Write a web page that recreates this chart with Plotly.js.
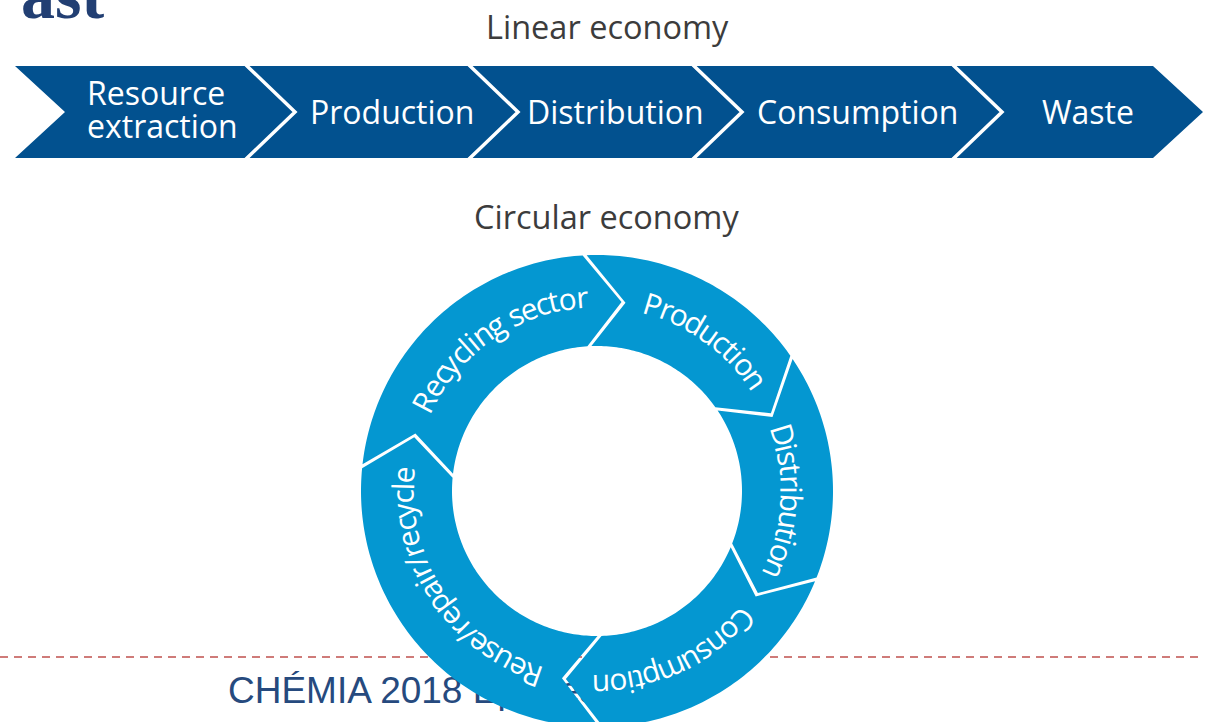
<!DOCTYPE html>
<html><head><meta charset="utf-8">
<script src="https://cdn.plot.ly/plotly-3.0.1.min.js"></script>
<style>html,body{margin:0;padding:0;background:#fff;overflow:hidden}#chart{width:1207px;height:722px;}</style>
</head><body><div id="chart"></div>
<script>
(function () {
// ---- content ----
const linearTitle = "Linear economy";
const circularTitle = "Circular economy";
const linearStages = ["Resource<br>extraction", "Production", "Distribution", "Consumption", "Waste"];
const linearEdges = [15, 245, 468, 692, 952, 1153];
const ringStages = ["Production", "Distribution", "Consumption", "Reuse/repair/recycle", "Recycling sector"];
const ringSpans = [58.5, 56.5, 67, 97, 81];
const ringStart = -3;
const headerText = "ast";
const footerText = "CHÉMIA 2018 Eperjes";

// ---- styles ----
const darkBlue = "#02518F", lightBlue = "#0497D1";
const W = 1207, H = 722;
const TXT = "'Open Sans', 'Noto Sans', sans-serif";
const ctx = document.createElement("canvas").getContext("2d");

const shapes = [], annotations = [];

shapes.push({type: "line", xref: "x", yref: "y", x0: 0, x1: 1200, y0: 657, y1: 657,
  line: {color: "#C0504D", width: 1.5, dash: "8px,6px"}, layer: "below"});

// ---- linear chevrons ----
const yTop = 66, yBot = 158, yMid = 112, D = 50, chevFont = 32;
ctx.font = chevFont + "px 'Open Sans'";
linearStages.forEach((lab, i) => {
  const x0 = linearEdges[i], x1 = linearEdges[i + 1];
  const pts = [[x0, yTop], [x1, yTop], [x1 + D, yMid], [x1, yBot], [x0, yBot], [x0 + D, yMid]];
  shapes.push({type: "path", xref: "x", yref: "y", layer: "above",
    path: "M" + pts.map(p => p[0] + "," + p[1]).join(" L") + " Z",
    fillcolor: darkBlue, line: {width: 0}});
  const cxT = (x0 + x1) / 2 + D / 2 + 10;
  const lines = lab.split("<br>");
  if (lines.length === 1) {
    annotations.push({x: cxT, y: yMid - 1, xref: "x", yref: "y", text: lab, showarrow: false,
      xanchor: "center", yanchor: "middle", font: {family: TXT, size: chevFont, color: "#ffffff"}});
  } else {
    const maxW = Math.max(...lines.map(l => ctx.measureText(l).width));
    const left = cxT - maxW / 2 - 5;
    lines.forEach((ln, k) => {
      const yy = yMid - 3.5 + (k - (lines.length - 1) / 2) * 33;
      annotations.push({x: left, y: yy, xref: "x", yref: "y", text: ln, showarrow: false,
        xanchor: "left", yanchor: "middle", font: {family: TXT, size: chevFont, color: "#ffffff"}});
    });
  }
});
for (let i = 1; i < linearEdges.length - 1; i++) {
  const x = linearEdges[i];
  shapes.push({type: "path", xref: "x", yref: "y", layer: "above",
    path: `M${x},${yTop - 2} L${x + D},${yMid} L${x},${yBot + 2}`,
    line: {color: "#ffffff", width: 3.5}});
}

annotations.push({x: 607, y: 26, xref: "x", yref: "y", text: linearTitle, showarrow: false,
  font: {family: TXT, size: 32.5, color: "#3c3c3c"}});
annotations.push({x: 606, y: 216, xref: "x", yref: "y", text: circularTitle, showarrow: false,
  font: {family: TXT, size: 32.5, color: "#3c3c3c"}});
annotations.push({x: 106, y: 35, xref: "x", yref: "y", text: "<b>" + headerText + "</b>", showarrow: false,
  xanchor: "right", yanchor: "bottom", font: {family: "'Liberation Serif', 'DejaVu Serif', serif", size: 68, color: "#223F73"}});

// ---- ring ----
const cx = 597, cy = 491, R = 236, r0 = 145, rm = 190.5, T = 11;
const deg = 180 / Math.PI;
function P(a, rad) { const t = a / deg; return [cx + rad * Math.sin(t), cy - rad * Math.cos(t)]; }
const go = 2 / R * deg, gi = 2 / r0 * deg, gm = 2 / rm * deg;
const ringFont = 30;
ctx.font = ringFont + "px 'Open Sans'";
let a0 = ringStart;
ringStages.forEach((lab, i) => {
  const a1 = a0 + ringSpans[i];
  const pts = [];
  for (let a = a0 + go; a < a1 - go; a += 1) pts.push(P(a, R));
  pts.push(P(a1 - go, R));
  pts.push(P(a1 + T - gm, rm));
  pts.push(P(a1 - gi, r0));
  for (let a = a1 - gi; a > a0 + gi; a -= 1) pts.push(P(a, r0));
  pts.push(P(a0 + gi, r0));
  pts.push(P(a0 + T + gm, rm));
  pts.push(P(a0 + go, R));
  shapes.push({type: "path", xref: "x", yref: "y", layer: "above",
    path: "M" + pts.map(p => p[0].toFixed(2) + "," + p[1].toFixed(2)).join(" L") + " Z",
    fillcolor: lightBlue, line: {width: 0}});
  const chars = [...lab];
  const squeeze = 0.95;
  const widths = chars.map((c, k) => (ctx.measureText(lab.slice(0, k + 1)).width - ctx.measureText(lab.slice(0, k)).width) * squeeze);
  const total = widths.reduce((s, w) => s + w, 0);
  const ac = (a0 + a1) / 2 + 9.5;
  const rt = 195;
  let pos = -total / 2;
  chars.forEach((c, k) => {
    const center = pos + widths[k] / 2;
    pos += widths[k];
    if (c === " ") return;
    const a = ac + center / rt * deg;
    const p = P(a, rt);
    annotations.push({x: p[0], y: p[1], xref: "x", yref: "y", text: c, showarrow: false,
      xanchor: "center", yanchor: "middle", textangle: a, borderpad: 0,
      font: {family: TXT, size: ringFont, color: "#ffffff"}});
  });
  a0 = a1;
});

const data = [{type: "scatter", mode: "text", x: [228], y: [694], text: [footerText],
  textposition: "middle right", hoverinfo: "skip", showlegend: false, cliponaxis: false,
  textfont: {family: "'Liberation Sans', Arial, sans-serif", size: 37, color: "#264A7E"}}];

const layout = {width: W, height: H, margin: {l: 0, r: 0, t: 0, b: 0},
  paper_bgcolor: "#ffffff", plot_bgcolor: "#ffffff", showlegend: false,
  xaxis: {range: [0, W], visible: false, fixedrange: true},
  yaxis: {range: [H, 0], visible: false, fixedrange: true},
  shapes: shapes, annotations: annotations};
Plotly.newPlot("chart", data, layout, {staticPlot: true, displayModeBar: false});
})();
</script></body></html>
